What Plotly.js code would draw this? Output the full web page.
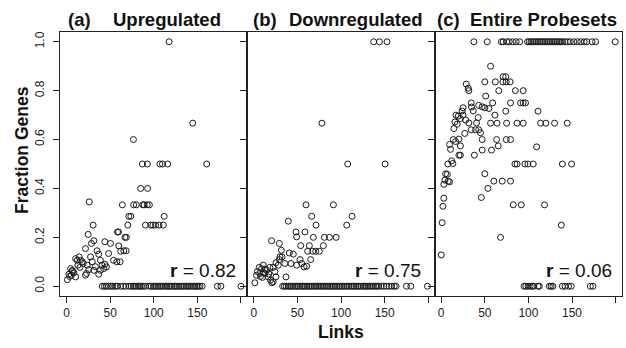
<!DOCTYPE html>
<html>
<head>
<meta charset="utf-8">
<script src="https://cdn.plot.ly/plotly-3.0.1.min.js"></script>
<style>html,body{margin:0;padding:0;background:#fff;}#chart{width:626px;height:348px;}</style>
</head>
<body>
<div id="chart"></div>
<script>
// Panel (a) Upregulated
const upX = [117.6,144.7,76.7,87,92.7,107,110,116,160.7,85,93,64,77,80,87.5,89,92.5,95,26,71.4,73.7,112,
  30.5,70.3,90.5,96.6,99,102,106,111,58.4,59.6,24.8,67,68.6,31.3,43.9,50.4,28.6,59.9,21.7,65.7,68.3,62,35,36.9,
  48.2,27.5,53.9,57.7,61.5,38.8,40.7,42.6,38.8,45.7,29.5,23.7,25.6,21.7,31.2,10.4,12.3,16.1,18,13,15.3,19.1,
  4.7,6.6,2.8,5.5,0.9,8.5,10.4,36.9,23,33,14.5,44,7,3.5,
  41,43.5,45.5,48,51,53,56,58,62,65,68,72,74,76.5,78,80,82.5,84,86,88,90.5,95,97,99.5,101,103,105,107,109,111,
  113.5,115,117,119,121,123.5,125,127,129,131,133,135,137.5,139,141,143,145.5,147,149,151,153,155.5,173,177,200];
const upY = [1.0,0.667,0.60,0.5,0.5,0.5,0.5,0.5,0.5,0.4,0.4,0.333,0.333,0.333,0.333,0.333,0.333,0.333,0.345,0.286,0.286,0.286,
  0.25,0.25,0.25,0.25,0.25,0.25,0.25,0.25,0.222,0.222,0.212,0.2,0.2,0.186,0.182,0.175,0.175,0.165,0.154,0.145,0.145,0.143,0.145,0.131,
  0.134,0.12,0.106,0.1,0.1,0.106,0.086,0.072,0.065,0.079,0.1,0.086,0.068,0.045,0.065,0.113,0.106,0.106,0.1,0.086,0.077,0.093,
  0.072,0.065,0.049,0.045,0.027,0.055,0.038,0.049,0.052,0.08,0.12,0.09,0.06,0.04,
  0,0,0,0,0,0,0,0,0,0,0,0,0,0,0,0,0,0,0,0,0,0,0,0,0,0,0,0,0,0,
  0,0,0,0,0,0,0,0,0,0,0,0,0,0,0,0,0,0,0,0,0,0,0,0,0];

// Panel (b) Downregulated
const downX = [137.4,144,152.7,78,107.6,150.4,59.8,91.2,39.5,66.3,112.6,71.3,106.5,48.3,58.6,49,68.2,80.9,86.7,94.3,
  20.3,29.2,53.7,63.6,79.7,31.5,61.7,67.5,70.9,75.1,40.6,45.2,29.9,32.2,29.2,52.9,65.1,35.6,42.5,49,54.8,57.5,60.5,
  25.3,28,22.1,18.3,14.5,8.8,6.1,10.7,3,6.8,12.6,16.4,9.9,25.3,36.8,19.1,22.1,20.6,1.1,13,4,11,24,17,7.5,
  33,35,37,39.5,41,43,45,47.5,49,51,53,55.5,57,59,61,63,65,67,69.5,71,73,75,77,79,81,83.5,85,87,89,91,93,95,97.5,
  99,101,103,105,107,109,111.5,113,115,117,119,121,123,125.5,127,129,131,133,135,137,139.5,141,143,146,149,152,155,158,161,163,
  175,180,199];
const downY = [1,1,1,0.667,0.5,0.5,0.333,0.333,0.266,0.286,0.286,0.25,0.25,0.222,0.222,0.202,0.2,0.2,0.2,0.2,
  0.186,0.175,0.166,0.166,0.166,0.147,0.143,0.143,0.143,0.143,0.136,0.131,0.12,0.12,0.109,0.109,0.109,0.093,0.093,0.086,0.093,0.079,0.082,
  0.096,0.086,0.077,0.077,0.065,0.072,0.077,0.086,0.045,0.052,0.052,0.038,0.036,0.038,0.038,0.025,0.018,0.014,0.014,0.07,0.06,0.055,0.06,0.05,0.04,
  0,0,0,0,0,0,0,0,0,0,0,0,0,0,0,0,0,0,0,0,0,0,0,0,0,0,0,0,0,0,0,0,0,
  0,0,0,0,0,0,0,0,0,0,0,0,0,0,0,0,0,0,0,0,0,0,0,0,0,0,0,0,0,0,
  0,0,0];

// Panel (c) Entire Probesets
const allX = [56.6,71,74,28.7,50,62,70.7,74.5,79,31,31.7,66,85,94,51,34.4,59,79.5,91,94,96.7,43,47,50,54.7,
  25,24,34.8,36.7,111,74,17,19.5,25,61.6,42.4,22,28,31.7,40.5,56.6,64,75,87,94,114,120,130,144.5,15.7,18.3,14.5,
  34.4,39.4,43,27,45,13.8,20.3,16.5,47,63.5,74.6,79.5,9.6,22,10.7,47,57.7,65.4,109.4,20.3,22,38,12,13.4,7.6,
  84.5,87,96,99.4,105.5,139,149.5,5,7,4.2,8,9.6,3,50,60.4,70,79.5,53.5,3,2,46,82.6,91.8,118.5,1.1,137.7,68,0,
  37.5,52.8,69,71,75,78,82,86,90,99,101,103,105,107,109,111,113,115,117,119,121,123,125,127,129,131,133,135,137,139,
  142,145,148,152,156,160,164,167,173,177,199.5,
  95,97,99.6,102,104.4,106,111,112.5,124,126,128,139,142,146,149,171,174];
const allY = [0.90,0.857,0.857,0.827,0.836,0.836,0.836,0.836,0.836,0.81,0.8,0.8,0.8,0.8,0.778,0.75,0.75,0.75,0.75,0.75,0.75,0.74,0.734,0.73,0.727,
  0.73,0.717,0.733,0.717,0.716,0.716,0.7,0.696,0.7,0.7,0.69,0.686,0.68,0.668,0.668,0.667,0.667,0.667,0.667,0.667,0.667,0.667,0.667,0.667,0.672,0.663,0.645,
  0.64,0.64,0.64,0.625,0.628,0.6,0.602,0.592,0.6,0.6,0.6,0.6,0.58,0.574,0.56,0.557,0.557,0.574,0.57,0.536,0.536,0.536,0.513,0.502,0.5,
  0.5,0.5,0.5,0.5,0.5,0.5,0.5,0.46,0.458,0.434,0.43,0.427,0.417,0.46,0.43,0.43,0.43,0.4,0.36,0.327,0.363,0.333,0.333,0.333,0.26,0.25,0.2,0.128,
  1,1,1,1,1,1,1,1,1,1,1,1,1,1,1,1,1,1,1,1,1,1,1,1,1,1,1,1,1,1,
  1,1,1,1,1,1,1,1,1,1,1,
  0,0,0,0,0,0,0,0,0,0,0,0,0,0,0,0,0];

const xTickVals = [0,50,100,150,200];
const xTickText = ['0','50','100','150',''];
const yTickVals = [0,0.2,0.4,0.6,0.8,1.0];
const yTickText = ['0.0','0.2','0.4','0.6','0.8','1.0'];
const panelTitles = [['(a)','Upregulated'],['(b)','Downregulated'],['(c)','Entire Probesets']];
const rLabels = ['0.82','0.75','0.06'];

const FONT = 'Liberation Sans, Arial, Helvetica, sans-serif';
const marker = {symbol:'circle-open', size:6, color:'#1a1a1a', line:{width:1, color:'#1a1a1a'}};

const traces = [
  {x:upX, y:upY, xaxis:'x', yaxis:'y', type:'scatter', mode:'markers', marker:marker, hoverinfo:'skip'},
  {x:downX, y:downY, xaxis:'x2', yaxis:'y2', type:'scatter', mode:'markers', marker:marker, hoverinfo:'skip'},
  {x:allX, y:allY, xaxis:'x3', yaxis:'y3', type:'scatter', mode:'markers', marker:marker, hoverinfo:'skip'}
];

function xax(dom, anchor){
  return {domain:dom, anchor:anchor, range:[-7.5,207.3], tickmode:'array', tickvals:xTickVals, ticktext:xTickText,
    ticks:'outside', ticklen:6, tickwidth:1, tickcolor:'#222', showline:true, mirror:true, linecolor:'#222', linewidth:1,
    showgrid:false, zeroline:false, tickfont:{family:FONT, size:12, color:'#222'}};
}
function yax(anchor, labels){
  return {anchor:anchor, range:[-0.04,1.04], tickmode:'array', tickvals:yTickVals, ticktext:yTickText, tickangle:-90,
    ticks:'outside', ticklen:6, tickwidth:1, tickcolor:'#222', showline:true, mirror:true, linecolor:'#222', linewidth:1,
    showgrid:false, zeroline:false, showticklabels:labels, ticklabelstandoff:4, tickfont:{family:FONT, size:12, color:'#222'}};
}

const titlePos = [[0.0119,0.0931],[0.3411,0.4062],[0.669,0.7283]];
const rPos = [0.3158,0.6436,0.9845];
const annotations = [];
panelTitles.forEach((t,i)=>{
  annotations.push({text:'<b>'+t[0]+'</b>', xref:'paper', yref:'paper', x:titlePos[i][0], y:1.047, xanchor:'left', yanchor:'middle', showarrow:false, borderpad:0, font:{family:FONT, size:18.5, color:'#111'}});
  annotations.push({text:'<b>'+t[1]+'</b>', xref:'paper', yref:'paper', x:titlePos[i][1], y:1.047, xanchor:'left', yanchor:'middle', showarrow:false, borderpad:0, font:{family:FONT, size:18.5, color:'#111'}});
  annotations.push({text:'<b>r</b> = '+rLabels[i], xref:'paper', yref:'paper', x:rPos[i], y:0.097, xanchor:'right', yanchor:'middle', showarrow:false, borderpad:0, font:{family:FONT, size:19, color:'#111'}});
});
annotations.push({text:'<b>Links</b>', xref:'paper', yref:'paper', x:0.5, y:-0.136, xanchor:'center', yanchor:'middle', showarrow:false, borderpad:0, font:{family:FONT, size:17.5, color:'#111'}});
annotations.push({text:'<b>Fraction Genes</b>', xref:'paper', yref:'paper', x:-0.0676, y:0.553, xanchor:'center', yanchor:'middle', textangle:-90, showarrow:false, borderpad:0, font:{family:FONT, size:17.5, color:'#111'}});

const layout = {
  width:626, height:348, margin:{l:60, r:4, t:32, b:52}, showlegend:false,
  paper_bgcolor:'#fff', plot_bgcolor:'#fff',
  xaxis:xax([0,1/3],'y'), xaxis2:xax([1/3,2/3],'y2'), xaxis3:xax([2/3,1],'y3'),
  yaxis:yax('x',true), yaxis2:yax('x2',false), yaxis3:yax('x3',false),
  annotations:annotations
};
Plotly.newPlot('chart', traces, layout, {displayModeBar:false, staticPlot:true});
</script>
</body>
</html>
